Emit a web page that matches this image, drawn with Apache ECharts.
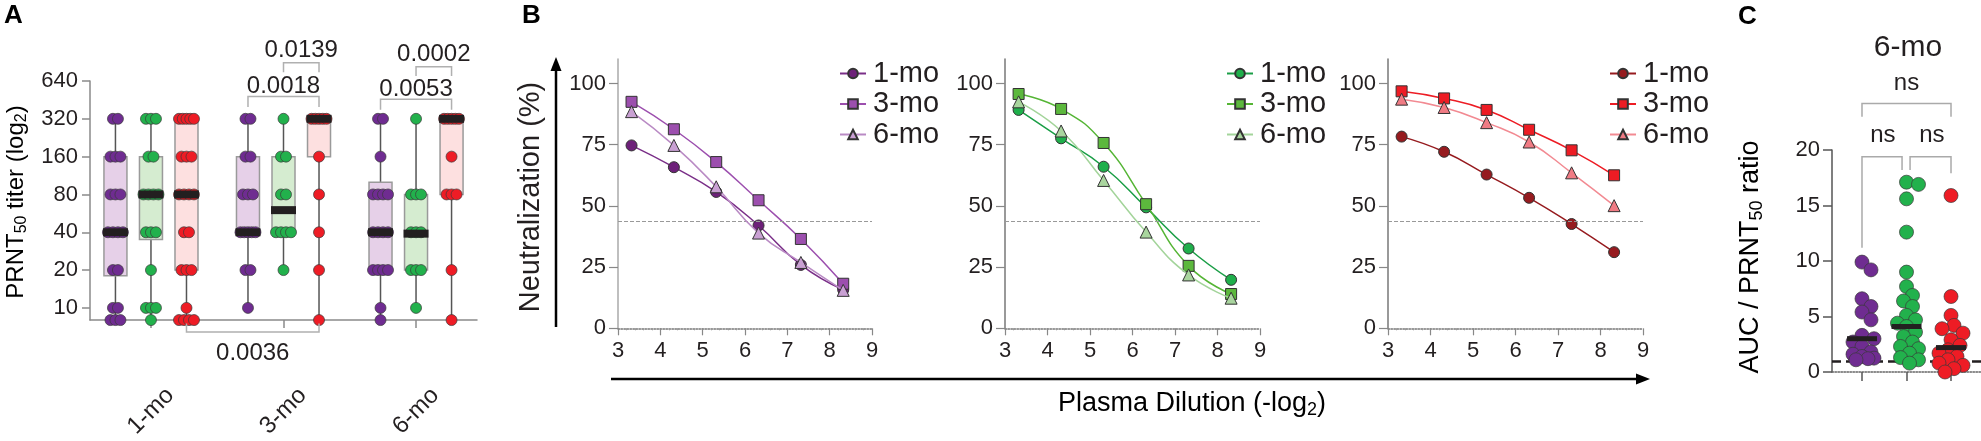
<!DOCTYPE html>
<html><head><meta charset="utf-8">
<script src="https://cdn.jsdelivr.net/npm/echarts@6/dist/echarts.min.js"></script>
<style>html,body{margin:0;padding:0;background:#fff}#c{width:1981px;height:441px}</style>
</head><body><div id="c"></div>
<script>
// ================= DATA =================
// ---- Panel A : PRNT50 titers ----
const timepoints = ['1-mo', '3-mo', '6-mo'];
const titerTickValues = [10, 20, 40, 80, 160, 320, 640];
const titerAxisMin = 8;
// individual titers (purple / green / red cohorts), per timepoint
const dotsPurple1 = [320,320,160,160,160,80,80,80,40,40,40,40,20,20,10,10,8,8,8];
const dotsGreen1  = [320,320,320,160,160,80,80,80,80,40,40,40,20,10,10,10,8];
const dotsRed1    = [320,320,320,320,320,160,160,160,80,80,80,80,40,40,20,20,20,10,8,8,8,8];
const dotsPurple3 = [320,320,160,160,80,80,80,40,40,40,40,40,20,20,10];
const dotsGreen3  = [320,160,160,80,80,40,40,40,40,20];
const dotsRed3    = [320,320,320,320,320,160,80,40,20,8];
const dotsPurple6 = [320,320,160,80,80,80,80,40,40,40,40,20,20,20,20,10,8];
const dotsGreen6  = [320,80,80,80,40,40,40,20,20,20,10];
const dotsRed6    = [320,320,320,320,320,160,80,80,80,20,8];
// box stats [min, q1, median, q3, max] for 1-mo, 3-mo, 6-mo
const boxPurple = [[8,18,40,160,320],[10,40,40,160,320],[8,20,40,100,320]];
const boxGreen  = [[8,35,80,160,320],[20,40,60,160,320],[10,20,39,80,320]];
const boxRed    = [[8,20,80,320,320],[8,160,320,320,320],[8,80,320,320,320]];
// p-values: [timepoint1, cohort1, timepoint2, cohort2, label]
const pValuesA = [
  [1,1,1,2,'0.0139'],
  [1,0,1,2,'0.0018'],
  [2,0,2,2,'0.0053'],
  [2,1,2,2,'0.0002'],
  [0,2,1,2,'0.0036']
];

// ---- Panel B : neutralization curves ----
const dilutionLog2 = [3.32, 4.32, 5.32, 6.32, 7.32, 8.32];
const neutPurple1 = [74.7, 65.8, 55.7, 42.0, 25.9, 15.7];
const neutPurple3 = [92.5, 81.3, 67.9, 52.3, 36.5, 18.2];
const neutPurple6 = [88.5, 74.7, 57.8, 38.9, 26.9, 15.5];
const neutGreen1  = [89.2, 77.6, 66.0, 49.4, 32.6, 19.8];
const neutGreen3  = [95.7, 89.6, 75.7, 50.7, 25.5, 14.0];
const neutGreen6  = [92.5, 80.6, 60.4, 39.3, 21.8, 12.3];
const neutRed1    = [78.3, 72.1, 62.8, 53.3, 42.6, 31.1];
const neutRed3    = [96.8, 93.9, 89.2, 81.1, 72.7, 62.5];
const neutRed6    = [93.6, 90.2, 84.0, 76.1, 63.5, 50.1];
const neut50Line = 43.7;
const neutTicks = [0, 25, 50, 75, 100];

// ---- Panel C : AUC / PRNT50 ratio at 6-mo ----
const ratioPurple = [9.9, 9.2, 6.6, 5.9, 5.4, 4.7, 3.3, 3.0, 2.7, 2.3, 1.8, 1.6, 1.4, 1.25, 1.1, 1.2];
const ratioGreen  = [17.1, 16.9, 15.6, 12.6, 9.0, 7.7, 6.9, 6.4, 5.9, 5.1, 4.7, 4.4, 4.1, 3.6, 3.2, 2.7, 2.3, 2.1, 1.7, 1.3, 1.1, 0.8];
const ratioRed    = [15.9, 6.8, 5.1, 4.2, 3.9, 3.5, 2.9, 2.4, 2.0, 1.7, 1.4, 1.1, 0.8, 0.6, 0.3, 0.0];
const ratioMedians = [3.0, 4.1, 2.2];
const ratioCutoff = 1.0;

// ================= STYLE / LAYOUT =================
const FONT = '"Liberation Sans", Arial, Helvetica, sans-serif';
const INK = '#231f20';
const dotColors = ['#6f2c91', '#22b14c', '#ee1c25'];
const boxFills = ['#e6d0e8', '#d5ecd0', '#fde0e0'];

// Panel A geometry
const A = {left: 90, top: 81, width: 387, height: 249, xMin: -0.46, xMax: 2.46, memberSp: 0.268};
const A_pxPerX = A.width / (A.xMax - A.xMin);
const T = v => Math.log2(v / 10);
const xPos = (g, m) => g + (m - 1) * A.memberSp;

const boxSets = [boxPurple, boxGreen, boxRed];
const dotSets = [[dotsPurple1, dotsPurple3, dotsPurple6], [dotsGreen1, dotsGreen3, dotsGreen6], [dotsRed1, dotsRed3, dotsRed6]];

const boxData = [];
for (let g = 0; g < 3; g++) for (let m = 0; m < 3; m++) {
  const b = boxSets[m][g];
  boxData.push([xPos(g, m), T(b[0]), T(b[1]), T(b[2]), T(b[3]), T(b[4]), m]);
}
function jitterDots(vals, g, m) {
  const counts = {};
  vals.forEach(v => counts[v] = (counts[v] || 0) + 1);
  const out = [];
  Object.keys(counts).forEach(k => {
    const n = counts[k];
    const step = n > 1 ? Math.min(5, 15 / (n - 1)) : 0;
    for (let i = 0; i < n; i++) {
      const offPx = (i - (n - 1) / 2) * step;
      out.push([xPos(g, m) + offPx / A_pxPerX, T(+k)]);
    }
  });
  return out;
}

// Panel B geometry
const Bgrids = [
  {left: 618, top: 59, width: 254, height: 269.3},
  {left: 1005, top: 59, width: 255, height: 269.3},
  {left: 1388, top: 59, width: 255, height: 269.3}
];
// Panel C geometry
const C = {left: 1832, top: 150, width: 149, height: 222, xMin: -0.674, xMax: 2.674, yMax: 20};
const C_pxPerX = C.width / (C.xMax - C.xMin);
const C_pxPerY = C.height / C.yMax;

function swarm(vals, center) {
  const sorted = vals.slice().sort((a, b) => b - a);
  const placed = [];
  const minD = 10, step = 3, maxOff = 14;
  sorted.forEach(v => {
    const y = v * C_pxPerY;
    let chosen = null, bestOff = 0, bestD = -1;
    for (let k = 0; k < 30; k++) {
      const off = (k % 2 === 1 ? 1 : -1) * Math.ceil(k / 2) * step;
      if (Math.abs(off) > maxOff) continue;
      let dmin = 1e9;
      placed.forEach(p => { const d = Math.hypot(p[0] - off, p[1] - y); if (d < dmin) dmin = d; });
      if (dmin >= minD) { chosen = off; break; }
      if (dmin > bestD) { bestD = dmin; bestOff = off; }
    }
    if (chosen === null) chosen = bestOff;
    placed.push([chosen, y]);
  });
  return placed.map((p, i) => [center + p[0] / C_pxPerX, sorted[i]]);
}

// ================= CHART =================
const chart = echarts.init(document.getElementById('c'), null, {renderer: 'canvas', width: 1981, height: 441});
const lbl = (size, extra) => Object.assign({fontSize: size, color: INK, fontFamily: FONT}, extra || {});

const grids = [
  {left: A.left, top: A.top, width: A.width, height: A.height},
  ...Bgrids,
  {left: C.left, top: C.top, width: C.width, height: C.height}
];

const xAxes = [
  {gridIndex: 0, type: 'value', min: A.xMin, max: A.xMax,
   axisLine: {show: true, onZero: false, lineStyle: {color: '#8a8a8a', width: 1.5}},
   axisTick: {show: true, customValues: [0, 1, 2], length: 8, lineStyle: {color: '#8a8a8a', width: 1.5}},
   axisLabel: Object.assign(lbl(24), {customValues: [0, 1, 2], formatter: v => timepoints[Math.round(v)], rotate: 45, align: 'center', verticalAlign: 'middle', margin: 91}),
   splitLine: {show: false}}
];
Bgrids.forEach((g, i) => xAxes.push({
  gridIndex: i + 1, type: 'value', min: 3, max: 9, interval: 1,
  axisLine: {show: true, onZero: false, lineStyle: {color: '#777', width: 1.5, type: 'dotted'}},
  axisTick: {show: true, length: 7, lineStyle: {color: '#888', width: 1.2}},
  minorTick: {show: true, splitNumber: 5, length: 2, lineStyle: {color: '#999'}},
  axisLabel: lbl(22, {margin: 12}),
  splitLine: {show: false}
}));
xAxes.push({gridIndex: 4, type: 'value', min: C.xMin, max: C.xMax,
  axisLine: {show: true, onZero: false, lineStyle: {color: '#666', width: 1.5, type: 'dotted'}},
  axisTick: {show: true, customValues: [0, 1, 2], length: 9, lineStyle: {color: '#555', width: 1.5}},
  axisLabel: {show: false}, splitLine: {show: false}});

const yAxes = [
  {gridIndex: 0, type: 'value', min: T(titerAxisMin), max: T(640),
   axisLine: {show: true, onZero: false, lineStyle: {color: '#8a8a8a', width: 1.5}},
   axisTick: {show: true, customValues: titerTickValues.map(T), length: 8, lineStyle: {color: '#8a8a8a', width: 1.5}},
   axisLabel: Object.assign(lbl(22), {customValues: titerTickValues.map(T), formatter: v => String(Math.round(10 * Math.pow(2, v))), margin: 12}),
   splitLine: {show: false}}
];
Bgrids.forEach((g, i) => yAxes.push({
  gridIndex: i + 1, type: 'value', min: 0, max: 110,
  axisLine: {show: true, onZero: false, lineStyle: {color: i === 0 ? '#aaa' : '#777', width: 1.5}},
  axisTick: {show: true, customValues: neutTicks, length: 9, lineStyle: {color: '#888', width: 1.2}},
  axisLabel: Object.assign(lbl(22), {customValues: neutTicks, margin: 12}),
  splitLine: {show: false}
}));
yAxes.push({gridIndex: 4, type: 'value', min: 0, max: 20, interval: 5,
  axisLine: {show: true, onZero: false, lineStyle: {color: '#555', width: 1.5}},
  axisTick: {show: true, length: 9, lineStyle: {color: '#555', width: 1.5}},
  axisLabel: lbl(22, {margin: 12}), splitLine: {show: false}});

const series = [];
// ---- Panel A ----
series.push({
  type: 'custom', xAxisIndex: 0, yAxisIndex: 0, z: 2, clip: false, silent: true,
  data: boxData,
  renderItem: (params, api) => {
    const x = api.value(0);
    const pMin = api.coord([x, api.value(1)]), pQ1 = api.coord([x, api.value(2)]);
    const pQ3 = api.coord([x, api.value(4)]), pMax = api.coord([x, api.value(5)]);
    const ci = api.value(6), w = 23;
    return {type: 'group', children: [
      {type: 'line', shape: {x1: pMin[0], y1: pMin[1], x2: pMax[0], y2: pMax[1]}, style: {stroke: '#555', lineWidth: 1.5}},
      {type: 'rect', shape: {x: pQ3[0] - w / 2, y: pQ3[1], width: w, height: Math.max(pQ1[1] - pQ3[1], 0)}, style: {fill: boxFills[ci], stroke: '#9a9a9a', lineWidth: 1.5}}
    ]};
  }
});
for (let m = 0; m < 3; m++) {
  let d = [];
  for (let g = 0; g < 3; g++) d = d.concat(jitterDots(dotSets[m][g], g, m));
  series.push({type: 'scatter', xAxisIndex: 0, yAxisIndex: 0, z: 3, symbolSize: 11, clip: false, silent: true,
    itemStyle: {color: dotColors[m], borderColor: '#3a3a3a', borderWidth: 0.7, opacity: 1}, data: d});
}
series.push({
  type: 'custom', xAxisIndex: 0, yAxisIndex: 0, z: 4, clip: false, silent: true,
  data: boxData,
  renderItem: (params, api) => {
    const p = api.coord([api.value(0), api.value(3)]);
    return {type: 'rect', shape: {x: p[0] - 12.5, y: p[1] - 4, width: 25, height: 8}, style: {fill: INK}};
  }
});
// p-value brackets A (levels in titer-axis units)
const pLevelsA = [[6.48, 6.23, 6.81], [5.59, 5.31, 5.85], [5.52, 5.24, 5.77], [6.38, 6.13, 6.71], [-0.636, -0.41, -1.195]];
series.push({
  type: 'custom', xAxisIndex: 0, yAxisIndex: 0, z: 5, clip: false, silent: true,
  data: pValuesA.map((p, i) => [xPos(p[0], p[1]), xPos(p[2], p[3]), pLevelsA[i][0], pLevelsA[i][1], pLevelsA[i][2]]),
  renderItem: (params, api) => {
    const x1 = api.value(0), x2 = api.value(1), yb = api.value(2), yl = api.value(3), yt = api.value(4);
    const a = api.coord([x1, yb]), b = api.coord([x2, yb]), a2 = api.coord([x1, yl]), b2 = api.coord([x2, yl]);
    const t = api.coord([(x1 + x2) / 2, yt]);
    const st = {stroke: '#b0b0b0', lineWidth: 1.5, fill: null};
    return {type: 'group', children: [
      {type: 'polyline', shape: {points: [a2, a, b, b2]}, style: st},
      {type: 'text', style: {text: pValuesA[params.dataIndex][4], x: t[0], y: t[1], fill: INK, font: '24px ' + FONT, align: 'center', verticalAlign: 'middle'}}
    ]};
  }
});

// ---- Panel B ----
const bSets = [
  {prefix: 'P', colors: ['#6d2079', '#9c4fae', '#c9a0d3'], lines: ['#7a2f88', '#9c4fae', '#b98ac4'], data: [neutPurple1, neutPurple3, neutPurple6]},
  {prefix: 'G', colors: ['#1faf4b', '#5cb83d', '#a9d59e'], lines: ['#1a9e46', '#55b535', '#a3d49a'], data: [neutGreen1, neutGreen3, neutGreen6]},
  {prefix: 'R', colors: ['#961b1f', '#ed1c24', '#f07b84'], lines: ['#961b1f', '#ed1c24', '#f28a92'], data: [neutRed1, neutRed3, neutRed6]}
];
const symbols = ['circle', 'rect', 'triangle'];
const legends = [];
bSets.forEach((s, gi) => {
  const names = timepoints.map(t => s.prefix + '|' + t);
  s.data.forEach((vals, k) => {
    const ser = {
      name: names[k], type: 'line', xAxisIndex: gi + 1, yAxisIndex: gi + 1, z: 3 + k,
      smooth: 0.5, symbol: symbols[k], symbolSize: k === 2 ? 12 : 11,
      lineStyle: {color: s.lines[k], width: 1.5},
      itemStyle: {color: s.colors[k], borderColor: '#333', borderWidth: 1},
      data: dilutionLog2.map((x, i) => [x, vals[i]])
    };
    if (k === 0) ser.markLine = {silent: true, symbol: 'none', label: {show: false},
      lineStyle: {type: 'dashed', color: '#999', width: 1}, data: [{yAxis: neut50Line}]};
    series.push(ser);
  });
  legends.push({
    data: names, formatter: n => n.split('|')[1], orient: 'vertical',
    left: Bgrids[gi].left + 221, top: 59, padding: 0, itemGap: 1.5,
    itemWidth: 26, itemHeight: 12, selectedMode: false,
    textStyle: {fontSize: 29, lineHeight: 28, color: INK, fontFamily: FONT, padding: [0, 0, 0, 2]}
  });
});

// ---- Panel C ----
const ratioSets = [ratioPurple, ratioGreen, ratioRed];
ratioSets.forEach((vals, i) => {
  const ser = {type: 'scatter', xAxisIndex: 4, yAxisIndex: 4, z: 3, symbolSize: 14, clip: false, silent: true,
    itemStyle: {color: dotColors[i], borderColor: '#3a3a3a', borderWidth: 0.7, opacity: 1},
    data: swarm(vals, i)};
  if (i === 0) ser.markLine = {silent: true, symbol: 'none', label: {show: false}, z: 2,
    lineStyle: {type: [9, 5], color: INK, width: 2.5}, data: [{yAxis: ratioCutoff}]};
  series.push(ser);
});
series.push({
  type: 'custom', xAxisIndex: 4, yAxisIndex: 4, z: 4, clip: false, silent: true,
  data: ratioMedians.map((v, i) => [i, v]),
  renderItem: (params, api) => {
    const p = api.coord([api.value(0), api.value(1)]);
    return {type: 'rect', shape: {x: p[0] - 15, y: p[1] - 2.5, width: 30, height: 5}, style: {fill: INK}};
  }
});
// ns brackets C: [x1, x2, yBar, yLeg1, yLeg2, textX, textY]
const nsBracketsC = [
  [0, 2, 24.2, 23.0, 23.0, 1, 26.0],
  [0, 0.9, 19.4, 11.2, 18.2, 0.47, 21.3],
  [1.08, 2, 19.4, 18.2, 17.9, 1.57, 21.3]
];
series.push({
  type: 'custom', xAxisIndex: 4, yAxisIndex: 4, z: 5, clip: false, silent: true,
  data: nsBracketsC,
  renderItem: (params, api) => {
    const v = i => api.value(i);
    const a2 = api.coord([v(0), v(3)]), a = api.coord([v(0), v(2)]), b = api.coord([v(1), v(2)]), b2 = api.coord([v(1), v(4)]);
    const t = api.coord([v(5), v(6)]);
    return {type: 'group', children: [
      {type: 'polyline', shape: {points: [a2, a, b, b2]}, style: {stroke: '#aaa', lineWidth: 1.5, fill: null}},
      {type: 'text', style: {text: 'ns', x: t[0], y: t[1], fill: INK, font: '24px ' + FONT, align: 'center', verticalAlign: 'middle'}}
    ]};
  }
});

// ---- titles / annotations ----
const richSub = (size) => ({
  n: {fontSize: size, lineHeight: size + 4, fontFamily: FONT, color: INK, verticalAlign: 'middle'},
  s: {fontSize: Math.round(size * 0.66), lineHeight: Math.round(size * 0.66), fontFamily: FONT, color: INK, verticalAlign: 'bottom'}
});
const graphic = [
  {type: 'text', x: 4, y: 3, style: {text: 'A', font: 'bold 26px ' + FONT, fill: '#000'}},
  {type: 'text', x: 522, y: 3, style: {text: 'B', font: 'bold 26px ' + FONT, fill: '#000'}},
  {type: 'text', x: 1738, y: 4, style: {text: 'C', font: 'bold 26px ' + FONT, fill: '#000'}},
  {type: 'text', x: 16, y: 202, rotation: Math.PI / 2,
   style: {text: '{n|PRNT}{s|50}{n| titer (log}{s|2}{n|)}', rich: richSub(24), align: 'center', verticalAlign: 'middle'}},
  {type: 'text', x: 531, y: 197, rotation: Math.PI / 2,
   style: {text: 'Neutralization (%)', font: '29px ' + FONT, fill: INK, align: 'center', verticalAlign: 'middle'}},
  {type: 'text', x: 1192, y: 404,
   style: {text: '{n|Plasma Dilution (-log}{s|2}{n|)}', rich: richSub(27), align: 'center', verticalAlign: 'middle'}},
  {type: 'text', x: 1751, y: 257, rotation: Math.PI / 2,
   style: {text: '{n|AUC / PRNT}{s|50}{n| ratio}', rich: richSub(27), align: 'center', verticalAlign: 'middle'}},
  {type: 'text', x: 1908, y: 48, style: {text: '6-mo', font: '30px ' + FONT, fill: INK, align: 'center', verticalAlign: 'middle'}},
  // arrows
  {type: 'line', shape: {x1: 556, y1: 327, x2: 556, y2: 68}, style: {stroke: '#000', lineWidth: 2.5}},
  {type: 'polygon', shape: {points: [[556, 57], [550.5, 71], [561.5, 71]]}, style: {fill: '#000'}},
  {type: 'line', shape: {x1: 611, y1: 379, x2: 1638, y2: 379}, style: {stroke: '#000', lineWidth: 2.5}},
  {type: 'polygon', shape: {points: [[1650, 379], [1636, 373.5], [1636, 384.5]]}, style: {fill: '#000'}}
];

chart.setOption({
  animation: false,
  backgroundColor: '#fff',
  textStyle: {fontFamily: FONT},
  grid: grids,
  xAxis: xAxes,
  yAxis: yAxes,
  legend: legends,
  series: series,
  graphic: graphic
});
</script>
</body></html>
